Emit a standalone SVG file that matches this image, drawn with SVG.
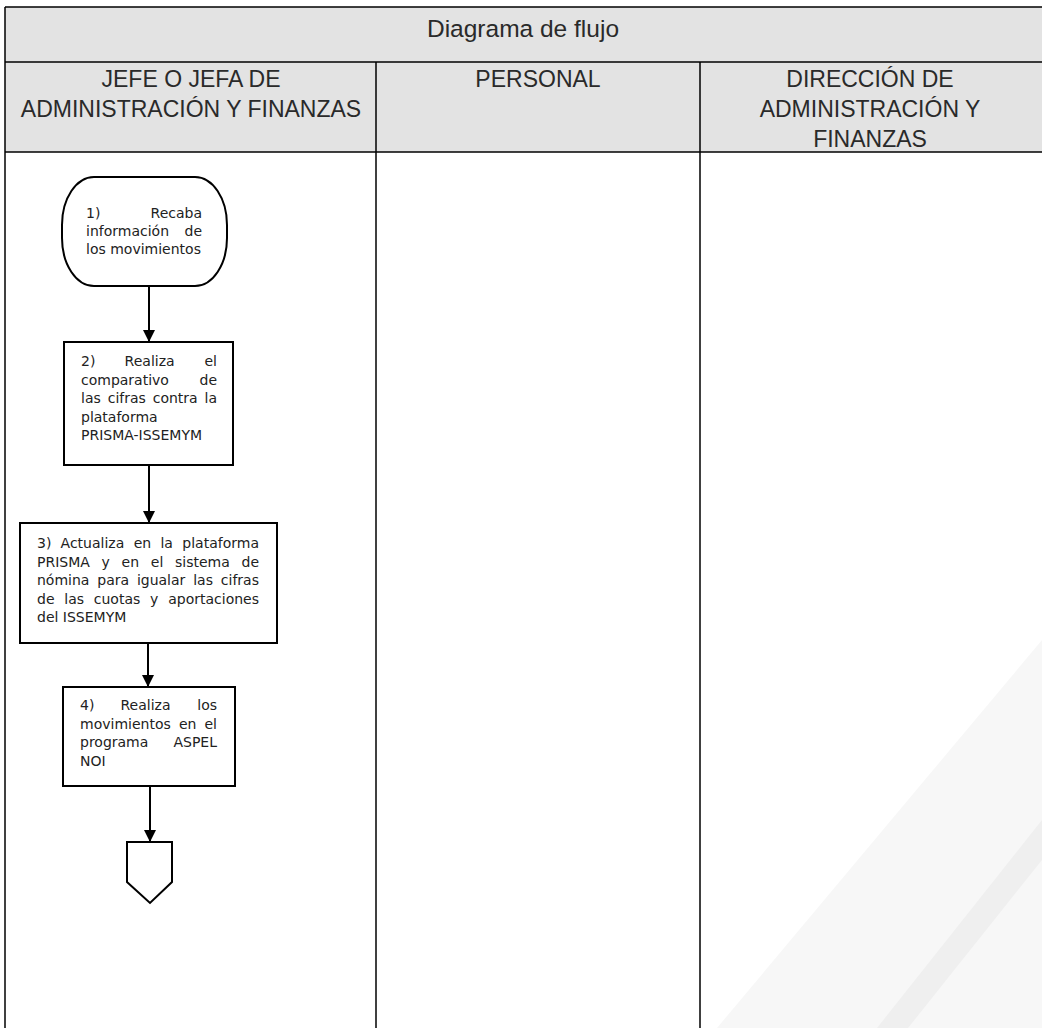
<svg xmlns="http://www.w3.org/2000/svg" width="1042" height="1028" viewBox="0 0 1042 1028">
<style>
.grid{stroke:#000;stroke-width:1.5;fill:none}
.hdr{font-family:"Liberation Sans",Arial,sans-serif;font-size:23px;fill:#2a2a2a;text-anchor:middle}
.shape{fill:#fff;stroke:#000;stroke-width:2}
.t{font-family:"DejaVu Sans","Liberation Sans",sans-serif;font-size:14px;fill:#222}
.e{text-anchor:end}
.conn{stroke:#000;stroke-width:2;fill:none;marker-end:url(#arr)}
</style>
<defs>
<marker id="arr" markerWidth="12" markerHeight="12" refX="12" refY="6" orient="auto" markerUnits="userSpaceOnUse" viewBox="0 0 12 12">
<path d="M0,0 L12,6 L0,12 Z" fill="#000"/>
</marker>
</defs>
<rect width="1042" height="1028" fill="#fff"/>
<g id="watermark">
<polygon points="1042,640 1042,1028 717,1028" fill="#f7f7f7"/>
<polygon points="1042,820 1042,860 908,1028 877,1028" fill="#efefef"/>
</g>
<g id="table">
<rect x="5" y="7" width="1040" height="145" fill="#e3e3e3"/>
<line class="grid" x1="5" y1="7" x2="1042" y2="7"/>
<line class="grid" x1="5" y1="62" x2="1042" y2="62"/>
<line class="grid" x1="5" y1="152" x2="1042" y2="152"/>
<line class="grid" x1="5" y1="7" x2="5" y2="1028"/>
<line class="grid" x1="376" y1="62" x2="376" y2="1028"/>
<line class="grid" x1="700" y1="62" x2="700" y2="1028"/>
<text class="hdr" x="523" y="37" style="font-size:24.5px">Diagrama de flujo</text>
<text class="hdr" x="191" y="87">JEFE O JEFA DE</text>
<text class="hdr" x="191" y="117">ADMINISTRACIÓN Y FINANZAS</text>
<text class="hdr" x="538" y="87">PERSONAL</text>
<text class="hdr" x="870" y="87">DIRECCIÓN DE</text>
<text class="hdr" x="870" y="117">ADMINISTRACIÓN Y</text>
<text class="hdr" x="870" y="147">FINANZAS</text>
</g>
<g id="connectors">
<line class="conn" x1="149" y1="286" x2="149" y2="342"/>
<line class="conn" x1="149" y1="465" x2="149" y2="523"/>
<line class="conn" x1="148" y1="643" x2="148" y2="687"/>
<line class="conn" x1="150" y1="786" x2="150" y2="842"/>
</g>
<g id="n1">
<rect class="shape" x="62" y="177" width="165" height="109" rx="32" ry="48"/>
<text class="t" y="218"><tspan x="86">1)</tspan><tspan class="e" x="202">Recaba</tspan></text>
<text class="t" y="236"><tspan x="86">información</tspan><tspan class="e" x="202">de</tspan></text>
<text class="t" x="86" y="254">los movimientos</text>
</g>
<g id="n2">
<rect class="shape" x="64" y="342" width="169" height="123"/>
<text class="t" y="366"><tspan x="81">2)</tspan><tspan x="124.6">Realiza</tspan><tspan class="e" x="217">el</tspan></text>
<text class="t" y="385"><tspan x="81">comparativo</tspan><tspan class="e" x="217">de</tspan></text>
<text class="t" y="403"><tspan x="81">las</tspan><tspan x="107.7">cifras</tspan><tspan x="152.7">contra</tspan><tspan class="e" x="217">la</tspan></text>
<text class="t" x="81" y="422">plataforma</text>
<text class="t" x="81" y="440">PRISMA-ISSEMYM</text>
</g>
<g id="n3">
<rect class="shape" x="20" y="523" width="257" height="120"/>
<text class="t" y="548"><tspan x="37">3)</tspan><tspan x="60.6">Actualiza</tspan><tspan x="133.7">en</tspan><tspan x="160.4">la</tspan><tspan class="e" x="259">plataforma</tspan></text>
<text class="t" y="567"><tspan x="37">PRISMA</tspan><tspan x="101.6">y</tspan><tspan x="121.6">en</tspan><tspan x="150.8">el</tspan><tspan x="175">sistema</tspan><tspan class="e" x="259">de</tspan></text>
<text class="t" y="585"><tspan x="37">nómina</tspan><tspan x="97.3">para</tspan><tspan x="136.9">igualar</tspan><tspan x="193.2">las</tspan><tspan class="e" x="259">cifras</tspan></text>
<text class="t" y="604"><tspan x="37">de</tspan><tspan x="64.3">las</tspan><tspan x="93.8">cuotas</tspan><tspan x="150.1">y</tspan><tspan class="e" x="259">aportaciones</tspan></text>
<text class="t" x="37" y="622">del ISSEMYM</text>
</g>
<g id="n4">
<rect class="shape" x="63" y="687" width="172" height="99"/>
<text class="t" y="710"><tspan x="80">4)</tspan><tspan x="120.5">Realiza</tspan><tspan class="e" x="217">los</tspan></text>
<text class="t" y="729"><tspan x="80">movimientos</tspan><tspan x="178.9">en</tspan><tspan class="e" x="217">el</tspan></text>
<text class="t" y="747"><tspan x="80">programa</tspan><tspan class="e" x="217">ASPEL</tspan></text>
<text class="t" x="80" y="766">NOI</text>
</g>
<g id="n5">
<polygon class="shape" points="127,842 172,842 172,882 150,903 127,882"/>
</g>
</svg>
